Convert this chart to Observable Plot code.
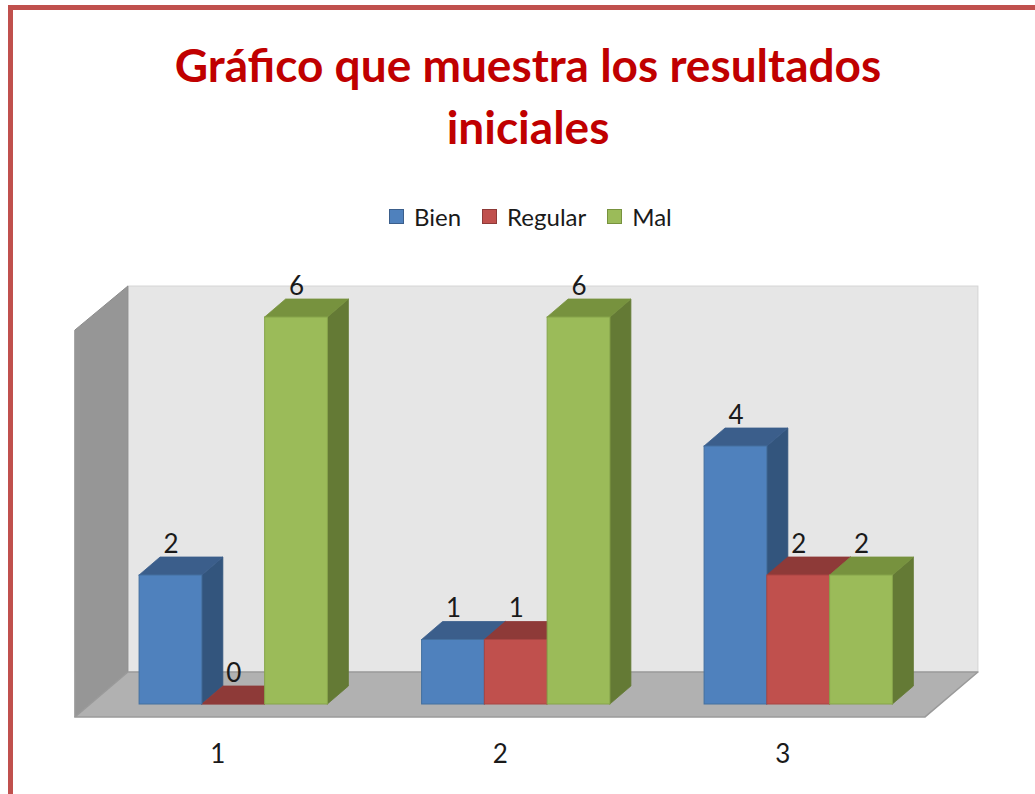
<!DOCTYPE html>
<html>
<head>
<meta charset="utf-8">
<script src="https://cdn.jsdelivr.net/npm/d3@7"></script>
<script src="https://cdn.jsdelivr.net/npm/@observablehq/plot@0.6"></script>
<style>
  html, body { margin: 0; padding: 0; background: #fff; overflow: hidden; }
  body { width: 1035px; height: 794px; position: relative; font-family: Lato, "Open Sans", sans-serif; }
  #frame { position: absolute; left: 8px; top: 5px; width: 1100px; height: 900px;
           border-left: 5px solid #C0504D; border-top: 5px solid #C0504D; }
  #title { position: absolute; left: 0; top: 34px; width: 1056px; text-align: center;
           font-family: Lato, sans-serif; font-weight: 700; font-size: 46px; line-height: 62px; color: #C00000; }
  #legend { position: absolute; left: 389px; top: 202px; display: flex; align-items: center;
            font-family: Lato, sans-serif; font-size: 24px; color: #1a1a1a; }
  .item { display: flex; align-items: center; margin-right: 21px; }
  .sw { width: 13px; height: 13px; border: 1px solid; margin-right: 10px; }
  #chart { position: absolute; left: 0; top: 250px; }
</style>
</head>
<body>
<div id="frame"></div>
<div id="title">Gráfico que muestra los resultados<br>iniciales</div>
<div id="legend"></div>
<div id="chart"></div>
<script>
// ---- data ----
const categories = ["1", "2", "3"];
const series = ["Bien", "Regular", "Mal"];
const bien = [2, 1, 4];
const regular = [0, 1, 2];
const mal = [6, 6, 2];

// ---- styles ----
const colors = {
  Bien:    {front: "#4F81BD", top: "#3B5E8B", side: "#33557D", edge: "#44709F"},
  Regular: {front: "#C0504D", top: "#8E3A38", side: "#853533", edge: "#A94543"},
  Mal:     {front: "#9BBB59", top: "#77923E", side: "#647A35", edge: "#86A44A"}
};

const values = {Bien: bien, Regular: regular, Mal: mal};
const barW = 1 / 4.5;        // bar width in group units (gap 150%)
const depthX = 0.0743;       // 3-D depth along x (group units)
const depthY = 0.279;        // 3-D depth along y (value units)

const rows = [];
categories.forEach((c, i) => {
  series.forEach((s, j) => {
    const g = i + 1;
    const x1 = g + (-1.5 + j) * barW;
    const x2 = x1 + barW;
    rows.push({cat: c, serie: s, value: values[s][i], x1, x2, id: `${c}-${s}`});
  });
});

// side faces (areaY: vertical edges)
const sides = rows.flatMap(r => [
  {id: r.id, serie: r.serie, x: r.x2, y1: 0, y2: r.value},
  {id: r.id, serie: r.serie, x: r.x2 + depthX, y1: depthY, y2: r.value + depthY}
]);
// top faces (areaX: horizontal edges)
const tops = rows.flatMap(r => [
  {id: r.id, serie: r.serie, y: r.value, x1: r.x1, x2: r.x2},
  {id: r.id, serie: r.serie, y: r.value + depthY, x1: r.x1 + depthX, x2: r.x2 + depthX}
]);

// walls & floor (in scale units)
const floorFront = -0.2, floorBack = 0.496, wallTop = 6.48, sideTop = 5.8;
const xFrontL = 0.44, xBackL = 0.627, xFrontR = 3.449, xBackR = 3.636;
const backWall = [{x1: xBackL, x2: xBackR, y1: floorBack, y2: wallTop}];
const sideWall = [
  {x: xFrontL, y1: floorFront, y2: sideTop},
  {x: xBackL, y1: floorBack, y2: wallTop}
];
const floor = [
  {y: floorFront, x1: xFrontL, x2: xFrontR},
  {y: floorBack, x1: xBackL, x2: xBackR}
];

const plot = Plot.plot({
  width: 1035,
  height: 544,
  marginLeft: 92,
  marginRight: 95.5,
  marginTop: 67,
  marginBottom: 90,
  x: {type: "linear", domain: [0.5, 3.5], axis: null},
  y: {type: "linear", domain: [0, 6], axis: null},
  style: {background: "transparent", overflow: "visible"},
  marks: [
    Plot.rect(backWall, {x1: "x1", x2: "x2", y1: "y1", y2: "y2", fill: "#E6E6E6", stroke: "#D4D4D4", strokeWidth: 1}),
    Plot.areaY(sideWall, {x: "x", y1: "y1", y2: "y2", fill: "#969696", stroke: "#8C8C8C", strokeWidth: 1, curve: "linear"}),
    Plot.areaX(floor, {y: "y", x1: "x1", x2: "x2", fill: "#B1B1B1", stroke: "#9A9A9A", strokeWidth: 1.5, curve: "linear"}),
    Plot.areaY(sides, {x: "x", y1: "y1", y2: "y2", z: "id", fill: d => colors[d.serie].side, stroke: d => colors[d.serie].side, strokeWidth: 0.8, curve: "linear"}),
    Plot.areaX(tops, {y: "y", x1: "x1", x2: "x2", z: "id", fill: d => colors[d.serie].top, stroke: d => colors[d.serie].top, strokeWidth: 0.8, curve: "linear"}),
    Plot.rect(rows, {x1: "x1", x2: "x2", y1: 0, y2: "value", fill: d => colors[d.serie].front, stroke: d => colors[d.serie].edge, strokeWidth: 1}),
    Plot.text(rows, {x: d => (d.x1 + d.x2) / 2, y: d => d.value + depthY, text: d => String(d.value),
      lineAnchor: "bottom", dy: -5, fontSize: 26, fill: "#1a1a1a", fontFamily: "Lato, sans-serif"}),
    Plot.axisX({ticks: [1, 2, 3], tickFormat: i => categories[i - 1], tickSize: 0, tickPadding: 40, dx: -16,
      fontSize: 26, fontFamily: "Lato, sans-serif", fill: "#1a1a1a"})
  ]
});
document.getElementById("chart").appendChild(plot);

// legend
const legend = document.getElementById("legend");
series.forEach(s => {
  const item = document.createElement("div");
  item.className = "item";
  const sw = document.createElement("div");
  sw.className = "sw";
  sw.style.background = colors[s].front;
  sw.style.borderColor = colors[s].top;
  const t = document.createElement("span");
  t.textContent = s;
  item.appendChild(sw);
  item.appendChild(t);
  legend.appendChild(item);
});
</script>
</body>
</html>
